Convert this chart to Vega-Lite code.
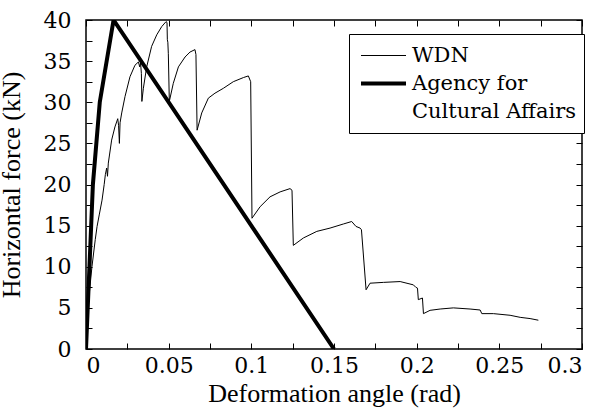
{
  "$schema": "https://vega.github.io/schema/vega-lite/v6.json",
  "width": 496,
  "height": 329,
  "autosize": {"type": "none"},
  "padding": {"left": 86, "top": 20, "right": 18, "bottom": 66},
  "background": "white",
  "config": {
    "view": {"stroke": "black", "strokeWidth": 1.5},
    "axis": {
      "domain": false,
      "grid": false,
      "tickColor": "black",
      "tickWidth": 1,
      "tickSize": -6,
      "labelColor": "black",
      "labelFontSize": 25,
      "titleFontSize": 26,
      "titleFontWeight": "normal",
      "titleColor": "black"
    },
    "legend": {
      "labelFont": "DejaVu Serif",
      "labelFontSize": 21,
      "labelColor": "black"
    }
  },
  "datasets": {
    "curves": [
      {"x": 0, "y": 0, "series": "WDN"},
      {"x": 0.0006, "y": 2.7, "series": "WDN"},
      {"x": 0.0016, "y": 6.0, "series": "WDN"},
      {"x": 0.0036, "y": 10.0, "series": "WDN"},
      {"x": 0.0056, "y": 13.3, "series": "WDN"},
      {"x": 0.0067, "y": 14.9, "series": "WDN"},
      {"x": 0.008, "y": 16.3, "series": "WDN"},
      {"x": 0.0097, "y": 18.1, "series": "WDN"},
      {"x": 0.011, "y": 20.0, "series": "WDN"},
      {"x": 0.0117, "y": 21.2, "series": "WDN"},
      {"x": 0.0125, "y": 22.0, "series": "WDN"},
      {"x": 0.013, "y": 21.0, "series": "WDN"},
      {"x": 0.0135, "y": 22.6, "series": "WDN"},
      {"x": 0.0155, "y": 25.4, "series": "WDN"},
      {"x": 0.0175, "y": 27.0, "series": "WDN"},
      {"x": 0.0192, "y": 28.0, "series": "WDN"},
      {"x": 0.0197, "y": 27.2, "series": "WDN"},
      {"x": 0.0202, "y": 25.0, "series": "WDN"},
      {"x": 0.0206, "y": 27.5, "series": "WDN"},
      {"x": 0.0216, "y": 28.7, "series": "WDN"},
      {"x": 0.0236, "y": 30.7, "series": "WDN"},
      {"x": 0.0266, "y": 33.1, "series": "WDN"},
      {"x": 0.0296, "y": 34.5, "series": "WDN"},
      {"x": 0.0317, "y": 34.9, "series": "WDN"},
      {"x": 0.0325, "y": 34.3, "series": "WDN"},
      {"x": 0.033, "y": 34.8, "series": "WDN"},
      {"x": 0.0335, "y": 33.5, "series": "WDN"},
      {"x": 0.0338, "y": 30.1, "series": "WDN"},
      {"x": 0.0347, "y": 31.7, "series": "WDN"},
      {"x": 0.0367, "y": 34.3, "series": "WDN"},
      {"x": 0.0397, "y": 36.8, "series": "WDN"},
      {"x": 0.0428, "y": 38.2, "series": "WDN"},
      {"x": 0.0458, "y": 39.2, "series": "WDN"},
      {"x": 0.0484, "y": 39.8, "series": "WDN"},
      {"x": 0.049, "y": 39.7, "series": "WDN"},
      {"x": 0.0492, "y": 37.6, "series": "WDN"},
      {"x": 0.0495, "y": 37.3, "series": "WDN"},
      {"x": 0.0498, "y": 35.9, "series": "WDN"},
      {"x": 0.0504, "y": 30.1, "series": "WDN"},
      {"x": 0.0528, "y": 32.3, "series": "WDN"},
      {"x": 0.0559, "y": 34.3, "series": "WDN"},
      {"x": 0.0599, "y": 35.5, "series": "WDN"},
      {"x": 0.0629, "y": 36.1, "series": "WDN"},
      {"x": 0.0659, "y": 36.4, "series": "WDN"},
      {"x": 0.0665, "y": 35.8, "series": "WDN"},
      {"x": 0.0672, "y": 26.6, "series": "WDN"},
      {"x": 0.07, "y": 28.7, "series": "WDN"},
      {"x": 0.074, "y": 30.5, "series": "WDN"},
      {"x": 0.078, "y": 31.1, "series": "WDN"},
      {"x": 0.0831, "y": 31.7, "series": "WDN"},
      {"x": 0.0891, "y": 32.5, "series": "WDN"},
      {"x": 0.0952, "y": 33.0, "series": "WDN"},
      {"x": 0.0982, "y": 33.2, "series": "WDN"},
      {"x": 0.0996, "y": 32.5, "series": "WDN"},
      {"x": 0.1004, "y": 15.9, "series": "WDN"},
      {"x": 0.1053, "y": 17.3, "series": "WDN"},
      {"x": 0.1113, "y": 18.5, "series": "WDN"},
      {"x": 0.1174, "y": 19.1, "series": "WDN"},
      {"x": 0.1234, "y": 19.5, "series": "WDN"},
      {"x": 0.1246, "y": 19.3, "series": "WDN"},
      {"x": 0.1254, "y": 12.6, "series": "WDN"},
      {"x": 0.1315, "y": 13.5, "series": "WDN"},
      {"x": 0.1396, "y": 14.3, "series": "WDN"},
      {"x": 0.1476, "y": 14.7, "series": "WDN"},
      {"x": 0.1557, "y": 15.2, "series": "WDN"},
      {"x": 0.1607, "y": 15.5, "series": "WDN"},
      {"x": 0.1633, "y": 14.9, "series": "WDN"},
      {"x": 0.1658, "y": 14.7, "series": "WDN"},
      {"x": 0.1666, "y": 14.5, "series": "WDN"},
      {"x": 0.1694, "y": 7.2, "series": "WDN"},
      {"x": 0.1718, "y": 8.0, "series": "WDN"},
      {"x": 0.1799, "y": 8.1, "series": "WDN"},
      {"x": 0.19, "y": 8.2, "series": "WDN"},
      {"x": 0.198, "y": 7.8, "series": "WDN"},
      {"x": 0.1995, "y": 7.5, "series": "WDN"},
      {"x": 0.2005, "y": 7.4, "series": "WDN"},
      {"x": 0.201, "y": 6.0, "series": "WDN"},
      {"x": 0.2035, "y": 6.2, "series": "WDN"},
      {"x": 0.2041, "y": 4.3, "series": "WDN"},
      {"x": 0.2081, "y": 4.7, "series": "WDN"},
      {"x": 0.2142, "y": 4.86, "series": "WDN"},
      {"x": 0.2222, "y": 5.0, "series": "WDN"},
      {"x": 0.2323, "y": 4.86, "series": "WDN"},
      {"x": 0.2384, "y": 4.74, "series": "WDN"},
      {"x": 0.2394, "y": 4.3, "series": "WDN"},
      {"x": 0.2464, "y": 4.3, "series": "WDN"},
      {"x": 0.2565, "y": 4.1, "series": "WDN"},
      {"x": 0.2626, "y": 3.85, "series": "WDN"},
      {"x": 0.2686, "y": 3.7, "series": "WDN"},
      {"x": 0.2736, "y": 3.5, "series": "WDN"},
      {"x": 0, "y": 0, "series": "Agency for Cultural Affairs"},
      {"x": 0.00417, "y": 20, "series": "Agency for Cultural Affairs"},
      {"x": 0.00833, "y": 30, "series": "Agency for Cultural Affairs"},
      {"x": 0.01667, "y": 40, "series": "Agency for Cultural Affairs"},
      {"x": 0.15, "y": 0, "series": "Agency for Cultural Affairs"}
    ]
  },
  "data": {"name": "curves"},
  "layer": [
    {
      "mark": {"type": "line", "strokeJoin": "miter", "clip": true},
      "encoding": {
        "x": {
          "field": "x", "type": "quantitative",
          "scale": {"domain": [0, 0.3], "nice": false, "zero": false},
          "axis": {
            "orient": "bottom",
            "title": "Deformation angle (rad)",
            "titleFont": "Liberation Serif",
            "labelFont": "DejaVu Serif",
            "labelFontSize": 22,
            "values": [0, 0.025, 0.05, 0.075, 0.1, 0.125, 0.15, 0.175, 0.2, 0.225, 0.25, 0.275, 0.3],
            "labelExpr": "abs(datum.value * 20 - round(datum.value * 20)) < 0.000001 ? format(datum.value, '~g') : ''",
            "labelPadding": 12,
            "titlePadding": 4
          }
        },
        "y": {
          "field": "y", "type": "quantitative",
          "scale": {"domain": [0, 40], "nice": false},
          "axis": {
            "orient": "left",
            "title": "Horizontal force (kN)",
            "titleFont": "Liberation Serif",
            "labelFont": "DejaVu Serif",
            "labelFontSize": 22,
            "values": [0, 2.5, 5, 7.5, 10, 12.5, 15, 17.5, 20, 22.5, 25, 27.5, 30, 32.5, 35, 37.5, 40],
            "labelExpr": "datum.value % 5 == 0 ? format(datum.value, 'd') : ''",
            "labelPadding": 21,
            "titlePadding": 19
          }
        },
        "color": {
          "field": "series", "type": "nominal",
          "scale": {"domain": ["WDN", "Agency for Cultural Affairs", "Cultural Affairs"], "range": ["black", "black", "white"]},
          "legend": {
            "title": null,
            "orient": "none",
            "legendX": 263,
            "legendY": 14,
            "symbolType": "stroke",
            "symbolSize": 2025,
            "symbolOffset": 2,
            "labelOffset": 4,
            "padding": 8,
            "clipHeight": 27,
            "rowPadding": 1,
            "strokeColor": "black",
            "fillColor": "white",
            "labelExpr": "datum.label == 'Agency for Cultural Affairs' ? 'Agency for' : datum.label",
            "labelLimit": 300
          }
        },
        "strokeWidth": {
          "field": "series", "type": "nominal",
          "scale": {"type": "ordinal", "domain": ["WDN", "Agency for Cultural Affairs", "Cultural Affairs"], "range": [1, 4, 0]},
          "legend": {
            "title": null,
            "orient": "none",
            "legendX": 263,
            "legendY": 14,
            "symbolType": "stroke",
            "symbolSize": 2025,
            "symbolOffset": 2,
            "labelOffset": 4,
            "padding": 8,
            "clipHeight": 27,
            "rowPadding": 1,
            "strokeColor": "black",
            "fillColor": "white",
            "labelExpr": "datum.label == 'Agency for Cultural Affairs' ? 'Agency for' : datum.label",
            "labelLimit": 300
          }
        }
      }
    },
    {
      "mark": {"type": "line", "opacity": 0},
      "encoding": {
        "x": {
          "field": "x", "type": "quantitative",
          "scale": {"domain": [0, 0.3], "nice": false, "zero": false},
          "axis": {
            "orient": "top", "title": null, "labels": false,
            "values": [0, 0.025, 0.05, 0.075, 0.1, 0.125, 0.15, 0.175, 0.2, 0.225, 0.25, 0.275, 0.3]
          }
        },
        "y": {
          "field": "y", "type": "quantitative",
          "scale": {"domain": [0, 40], "nice": false},
          "axis": {
            "orient": "right", "title": null, "labels": false,
            "values": [0, 2.5, 5, 7.5, 10, 12.5, 15, 17.5, 20, 22.5, 25, 27.5, 30, 32.5, 35, 37.5, 40]
          }
        },
        "detail": {"field": "series", "type": "nominal"}
      }
    }
  ],
  "resolve": {"axis": {"x": "independent", "y": "independent"}}
}
